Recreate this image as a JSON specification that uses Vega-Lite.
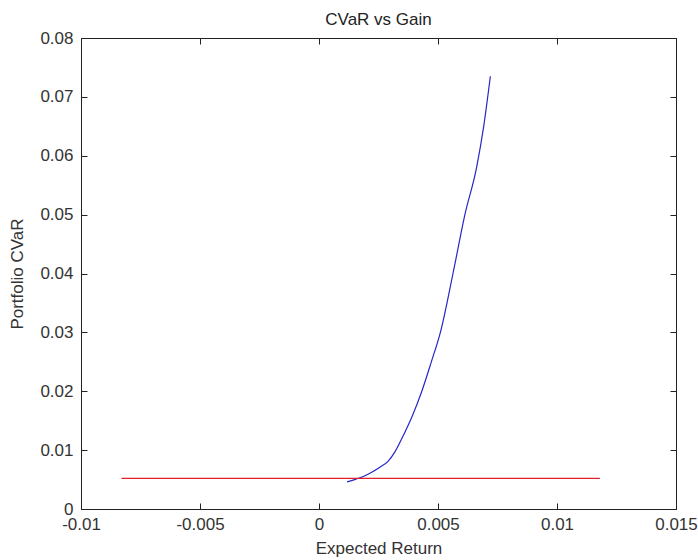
{
  "$schema": "https://vega.github.io/schema/vega-lite/v6.json",
  "width": 595,
  "height": 471,
  "autosize": "none",
  "padding": {"left": 81, "top": 38, "right": 22, "bottom": 51},
  "background": "white",
  "title": {"text": "CVaR vs Gain", "font": "Liberation Sans", "fontSize": 17, "fontWeight": "normal", "color": "#222", "offset": 0},
  "config": {
    "view": {"stroke": "#222", "strokeWidth": 1},
    "axis": {
      "labelFont": "Liberation Sans", "labelFontSize": 17, "labelColor": "#333",
      "titleFont": "Liberation Sans", "titleFontSize": 17, "titleFontWeight": "normal", "titleColor": "#333",
      "domainColor": "#222", "tickColor": "#222", "tickSize": -6, "grid": false
    }
  },
  "layer": [
    {
      "data": {"values": [
        {"ret": 0.00118, "cvar": 0.0046},
        {"ret": 0.00150, "cvar": 0.0050},
        {"ret": 0.00172, "cvar": 0.0053},
        {"ret": 0.00210, "cvar": 0.0060},
        {"ret": 0.00256, "cvar": 0.0071},
        {"ret": 0.00290, "cvar": 0.0081},
        {"ret": 0.00319, "cvar": 0.0097},
        {"ret": 0.00358, "cvar": 0.0128},
        {"ret": 0.00392, "cvar": 0.0158},
        {"ret": 0.00432, "cvar": 0.0200},
        {"ret": 0.00472, "cvar": 0.0250},
        {"ret": 0.00510, "cvar": 0.0300},
        {"ret": 0.00563, "cvar": 0.0400},
        {"ret": 0.00613, "cvar": 0.0500},
        {"ret": 0.00662, "cvar": 0.0580},
        {"ret": 0.00692, "cvar": 0.0650},
        {"ret": 0.00720, "cvar": 0.0735}
      ]},
      "mark": {"type": "line", "color": "#2626c8", "strokeWidth": 1.2, "interpolate": "monotone"},
      "encoding": {
        "x": {"field": "ret", "type": "quantitative", "scale": {"domain": [-0.01, 0.015], "nice": false, "zero": false},
              "axis": {"orient": "bottom", "title": "Expected Return", "values": [-0.01, -0.005, 0, 0.005, 0.01, 0.015], "labelExpr": "toString(datum.value)", "labelPadding": 13, "titlePadding": 8, "labelFlush": false, "labelOverlap": false}},
        "y": {"field": "cvar", "type": "quantitative", "scale": {"domain": [0, 0.08], "nice": false},
              "axis": {"orient": "left", "title": "Portfolio CVaR", "values": [0, 0.01, 0.02, 0.03, 0.04, 0.05, 0.06, 0.07, 0.08], "labelExpr": "toString(datum.value)", "labelPadding": 14, "titlePadding": 13, "labelFlush": false, "labelOverlap": false}}
      }
    },
    {
      "data": {"values": [
        {"ret": -0.0083, "cvar": 0.0052},
        {"ret": 0.0118, "cvar": 0.0052}
      ]},
      "mark": {"type": "line", "color": "#e0202a", "strokeWidth": 1.2},
      "encoding": {
        "x": {"field": "ret", "type": "quantitative",
              "axis": {"orient": "top", "title": null, "labels": false, "domain": false, "values": [-0.01, -0.005, 0, 0.005, 0.01, 0.015]}},
        "y": {"field": "cvar", "type": "quantitative",
              "axis": {"orient": "right", "title": null, "labels": false, "domain": false, "values": [0, 0.01, 0.02, 0.03, 0.04, 0.05, 0.06, 0.07, 0.08]}}
      }
    }
  ],
  "resolve": {"axis": {"x": "independent", "y": "independent"}}
}
